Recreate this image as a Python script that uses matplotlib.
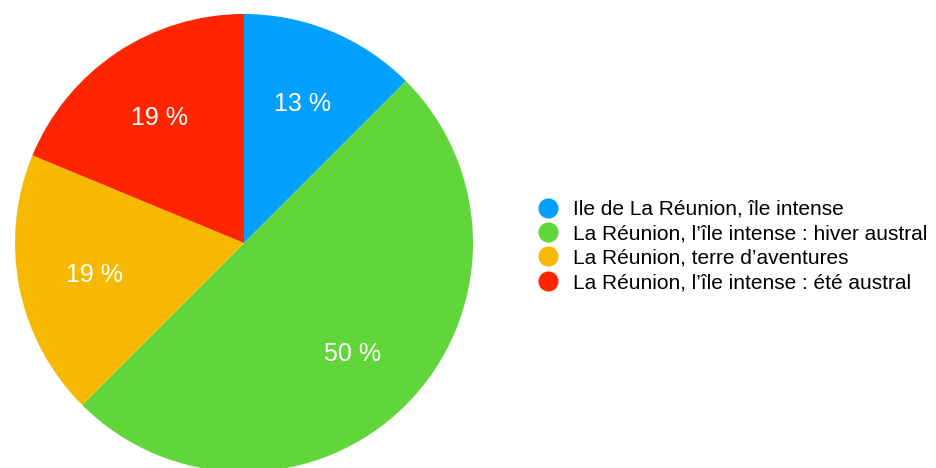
import matplotlib.pyplot as plt
from matplotlib.lines import Line2D

plt.rcParams['font.family'] = ['Liberation Sans', 'DejaVu Sans']

labels = [
    "Ile de La Réunion, île intense",
    "La Réunion, l\u2019île intense : hiver austral",
    "La Réunion, terre d\u2019aventures",
    "La Réunion, l\u2019île intense : été austral",
]
values = [2, 8, 3, 3]
colors = ["#03a0fd", "#60d63a", "#f7b900", "#ff2500"]


def pct_label(p):
    return "%d %%" % int(p + 0.5)


fig = plt.figure(figsize=(9.36, 4.68), dpi=100)
W, H = 936, 468
cx, cy, r = 244, 243, 229
ax = fig.add_axes([(cx - r) / W, (H - cy - r) / H, 2 * r / W, 2 * r / H])
wedges, texts, autotexts = ax.pie(
    values, colors=colors, startangle=90, counterclock=False,
    autopct=pct_label, pctdistance=0.668, radius=1,
    textprops={"color": "white", "fontsize": 18})
for t in autotexts:
    t.set_va("center_baseline")
ax.set_xlim(-1, 1)
ax.set_ylim(-1, 1)
ax.set_aspect("equal")
ax.axis("off")

handles = [Line2D([], [], marker="o", linestyle="none", markersize=13.5,
                  markerfacecolor=c, markeredgecolor=c) for c in colors]
fig.legend(handles, labels, loc="center left",
           bbox_to_anchor=(537.6 / W, 1 - 246 / H), frameon=False,
           fontsize=15, handletextpad=0.7, labelspacing=0.26,
           handlelength=1.0, borderaxespad=0, borderpad=0)

fig.savefig("out.png", dpi=100)
